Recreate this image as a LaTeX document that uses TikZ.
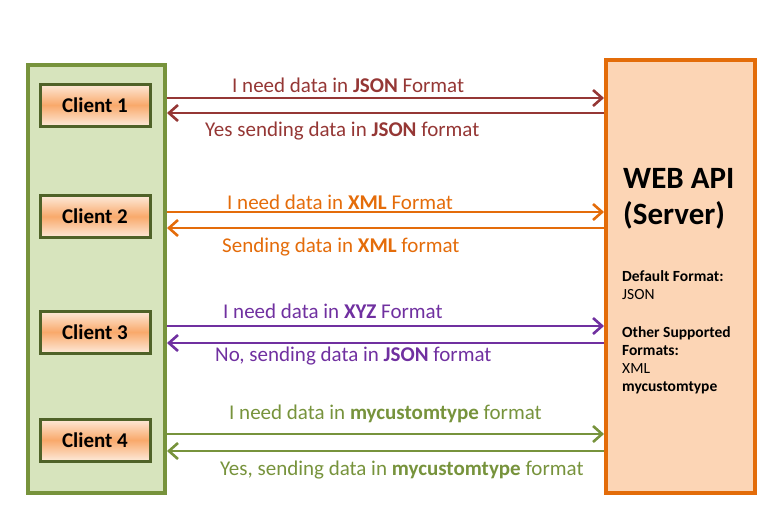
\documentclass[tikz,border=0pt]{standalone}
\usepackage{fontspec}
\setmainfont{Carlito}
\usepackage{xcolor}
\usepackage{tikz}
\usetikzlibrary{arrows.meta}
\definecolor{cbg}{HTML}{D7E4BD}
\definecolor{cedge}{HTML}{77933C}
\definecolor{kedge}{HTML}{4F6228}
\definecolor{ktop}{HTML}{FDEADA}
\definecolor{kmid}{HTML}{F9A96B}
\definecolor{sbg}{HTML}{FCD5B5}
\definecolor{sedge}{HTML}{E36C09}
\definecolor{1}{HTML}{953735}
\definecolor{2}{HTML}{E46C0A}
\definecolor{3}{HTML}{7030A0}
\definecolor{4}{HTML}{77933C}
\tikzset{
  client/.style={draw=kedge, line width=3pt, top color=ktop, bottom color=ktop, middle color=kmid,
    minimum width=110pt, minimum height=42pt, font=\fontsize{21}{25}\selectfont\bfseries},
  msg/.style={anchor=west, inner sep=0pt, font=\fontsize{21}{25}\selectfont},
  link/.style={line width=2.6pt, -{Straight Barb[length=9pt,width=16pt]}}
}

\begin{document}
\begin{tikzpicture}[x=1pt, y=-1pt]
\useasboundingbox (0,0) rectangle (781,512);

% the two big boxes
\node[draw=cedge, fill=cbg, line width=4pt, minimum width=137pt, minimum height=428pt] (clients) at (96.5,279) {};
\node[draw=sedge, fill=sbg, line width=4pt, minimum width=149pt, minimum height=433pt] (server) at (680.5,276.5) {};

\node[client] (c1) at (95,105) {Client 1};
\node[client] (c2) at (95,216.5) {Client 2};
\node[client] (c3) at (95,332) {Client 3};
\node[client] (c4) at (95,440) {Client 4};

% server text
\node[anchor=north west, align=left, inner sep=0pt, font=\fontsize{31}{36}\selectfont\bfseries] (title) at (623,168) {WEB API\\(Server)};
\node[anchor=north west, align=left, inner sep=0pt, font=\fontsize{15.5}{18}\selectfont] (formats) at (622,270)
  {\textbf{Default Format:}\\JSON\\[20pt]\textbf{Other Supported}\\\textbf{Formats:}\\XML\\\textbf{mycustomtype}};

% requests and answers
\draw[link, color=1] (clients.east |- 0,98) -- (server.west |- 0,98);
\draw[link, color=1] (server.west |- 0,113) -- (clients.east |- 0,113);
\node[msg, text=1] (q1) at (232,85) {I need data in \textbf{JSON} Format};
\node[msg, text=1] (a1) at (205,131) {Yes sending data in \textbf{JSON} format};

\draw[link, color=2] (clients.east |- 0,212) -- (server.west |- 0,212);
\draw[link, color=2] (server.west |- 0,228) -- (clients.east |- 0,228);
\node[msg, text=2] (q2) at (227,202) {I need data in \textbf{XML} Format};
\node[msg, text=2] (a2) at (222,247) {Sending data in \textbf{XML} format};

\draw[link, color=3] (clients.east |- 0,326) -- (server.west |- 0,326);
\draw[link, color=3] (server.west |- 0,343) -- (clients.east |- 0,343);
\node[msg, text=3] (q3) at (223,311) {I need data in \textbf{XYZ} Format};
\node[msg, text=3] (a3) at (215,356) {No, sending data in \textbf{JSON} format};

\draw[link, color=4] (clients.east |- 0,434) -- (server.west |- 0,434);
\draw[link, color=4] (server.west |- 0,451) -- (clients.east |- 0,451);
\node[msg, text=4] (q4) at (229,414) {I need data in \textbf{mycustomtype} format};
\node[msg, text=4] (a4) at (220,470) {Yes, sending data in \textbf{mycustomtype} format};

\end{tikzpicture}
\end{document}
